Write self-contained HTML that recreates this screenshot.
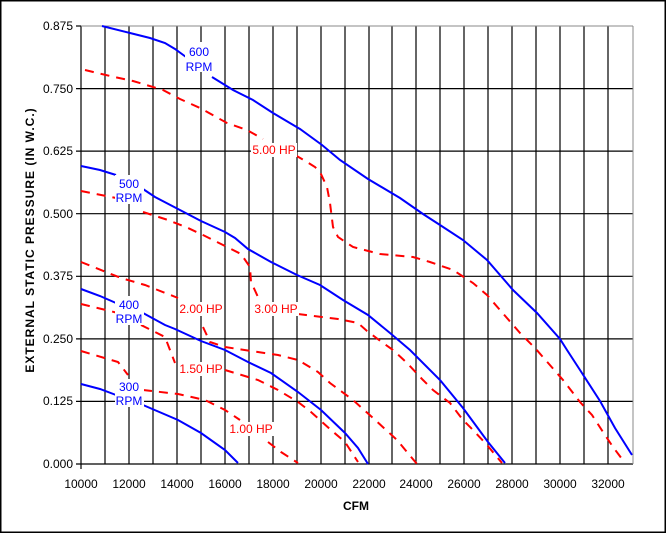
<!DOCTYPE html>
<html><head><style>body{margin:0;background:#fff}svg{display:block}</style></head><body>
<svg width="666" height="533" viewBox="0 0 666 533" xmlns="http://www.w3.org/2000/svg" font-family="Liberation Sans, Arial, sans-serif">
<rect x="0.5" y="0.5" width="665" height="532" fill="#fff" stroke="#000" stroke-width="1"/>
<rect x="1" y="1" width="664" height="531" fill="none" stroke="#000" stroke-width="1"/>
<g stroke="#000" stroke-width="1.2">
<line x1="105" y1="26" x2="105" y2="464"/><line x1="129" y1="26" x2="129" y2="464"/><line x1="153" y1="26" x2="153" y2="464"/><line x1="177" y1="26" x2="177" y2="464"/><line x1="201" y1="26" x2="201" y2="464"/><line x1="225" y1="26" x2="225" y2="464"/><line x1="249" y1="26" x2="249" y2="464"/><line x1="273" y1="26" x2="273" y2="464"/><line x1="297" y1="26" x2="297" y2="464"/><line x1="321" y1="26" x2="321" y2="464"/><line x1="345" y1="26" x2="345" y2="464"/><line x1="369" y1="26" x2="369" y2="464"/><line x1="392" y1="26" x2="392" y2="464"/><line x1="416" y1="26" x2="416" y2="464"/><line x1="440" y1="26" x2="440" y2="464"/><line x1="464" y1="26" x2="464" y2="464"/><line x1="488" y1="26" x2="488" y2="464"/><line x1="512" y1="26" x2="512" y2="464"/><line x1="536" y1="26" x2="536" y2="464"/><line x1="560" y1="26" x2="560" y2="464"/><line x1="584" y1="26" x2="584" y2="464"/><line x1="608" y1="26" x2="608" y2="464"/>
<line x1="76" y1="401.4" x2="633" y2="401.4"/><line x1="76" y1="338.9" x2="633" y2="338.9"/><line x1="76" y1="276.3" x2="633" y2="276.3"/><line x1="76" y1="213.7" x2="633" y2="213.7"/><line x1="76" y1="151.1" x2="633" y2="151.1"/><line x1="76" y1="88.6" x2="633" y2="88.6"/>
<line x1="81" y1="26" x2="81" y2="469"/><line x1="76" y1="464" x2="633" y2="464"/><line x1="76" y1="26" x2="81" y2="26"/>
</g>
<line x1="81" y1="26" x2="633" y2="26" stroke="#888"/><line x1="633" y1="26" x2="633" y2="464" stroke="#888"/>
<g fill="none" stroke="#0000ff" stroke-width="2">
<polyline points="102,26 130,33 150,38 165,43 175,49 186,57"/>
<polyline points="212,77 233,90 253,100 273,113 300,129 322,145 340,160 368,179 400,198 423,214 440,225 463,240 487,260 513,290 537,313 560,339 567,350 580,370 600,401 615,428 632,455"/>
<polyline points="81,166 100,170 116,175"/>
<polyline points="143,189 155,197 178,209 201,221 225,232 235,238 248,249 271,262 297,275 320,285 343,300 368,315 390,333 410,350 440,380 463,408 488,442 505,463"/>
<polyline points="81,289 100,296 116,303"/>
<polyline points="143,313 165,325 175,329 201,341 225,350 248,362 271,373 298,392 321,410 345,433 358,448 368,464"/>
<polyline points="81,384 100,389 116,395"/>
<polyline points="143,405 178,420 201,433 225,450 238,463"/>
</g>
<g fill="none" stroke="#ff0000" stroke-width="2" stroke-dasharray="9 7">
<polyline points="85,70 110,76 133,81 163,90 180,99 200,108 227,123 247,130 263,139"/>
<polyline points="295,155 307,162 315,167 320,172 327,187 330,203 333,227 338,237 353,247 380,254 413,257 430,262 453,270 473,283 487,295 500,310 520,333 535,348 563,380 580,402 592,415 603,432 613,447 625,463"/>
<polyline points="81,191 116,198"/>
<polyline points="143,212 168,220 188,228 205,236 231,249 241,254 250,267 251,282 258,297"/>
<polyline points="298,314 338,319 358,323 367,331 383,343 393,350 407,363 423,380 433,390 450,403 463,420 473,430 487,445 502,463"/>
<polyline points="81,262 121,278 145,285 178,298"/>
<polyline points="203,327 210,342 225,347 251,351 278,355 298,360 318,372 330,383 353,400 373,418 397,440 417,464"/>
<polyline points="81,304 118,313 145,327 165,337 175,363"/>
<polyline points="225,370 258,380 278,390 298,402 311,412 331,430 345,442 358,462"/>
<polyline points="81,351 118,362 128,375"/>
<polyline points="143,390 178,394 205,400 225,410 240,420"/>
<polyline points="268,442 281,452 298,463"/>
</g>
<g font-size="12" text-anchor="middle" fill="#0000ff">
<rect x="185" y="42" width="28" height="30" fill="#fff"/>
<text x="199" y="56">600</text><text x="199" y="71">RPM</text>
<rect x="115" y="175" width="29" height="29" fill="#fff"/>
<text x="129" y="188">500</text><text x="129" y="202">RPM</text>
<rect x="115" y="296" width="29" height="29" fill="#fff"/>
<text x="129" y="309">400</text><text x="129" y="323">RPM</text>
<rect x="115" y="379" width="29" height="28" fill="#fff"/>
<text x="129" y="391">300</text><text x="129" y="405">RPM</text>
</g>
<g font-size="12" text-anchor="middle" fill="#ff0000">
<rect x="251" y="143" width="46" height="14" fill="#fff"/><text x="274" y="154">5.00 HP</text>
<rect x="178" y="302" width="46" height="14" fill="#fff"/><text x="201" y="313">2.00 HP</text>
<rect x="253" y="302" width="46" height="14" fill="#fff"/><text x="276" y="313">3.00 HP</text>
<rect x="178" y="362" width="46" height="14" fill="#fff"/><text x="201" y="373">1.50 HP</text>
<rect x="228" y="422" width="46" height="14" fill="#fff"/><text x="251" y="433">1.00 HP</text>
</g>
<g font-size="12" text-anchor="end" fill="#000">
<text x="73" y="468">0.000</text><text x="73" y="405">0.125</text><text x="73" y="343">0.250</text><text x="73" y="280">0.375</text><text x="73" y="218">0.500</text><text x="73" y="155">0.625</text><text x="73" y="93">0.750</text><text x="73" y="30">0.875</text>
</g>
<g font-size="12" text-anchor="middle" fill="#000">
<text x="81" y="488">10000</text><text x="129" y="488">12000</text><text x="177" y="488">14000</text><text x="225" y="488">16000</text><text x="273" y="488">18000</text><text x="321" y="488">20000</text><text x="369" y="488">22000</text><text x="416" y="488">24000</text><text x="464" y="488">26000</text><text x="512" y="488">28000</text><text x="560" y="488">30000</text><text x="608" y="488">32000</text>
</g>
<text x="356" y="510" font-size="12" font-weight="bold" text-anchor="middle">CFM</text>
<text transform="translate(34,240) rotate(-90)" font-size="12" font-weight="bold" letter-spacing="1" text-anchor="middle">EXTERNAL STATIC PRESSURE (IN W.C.)</text>
</svg>
</body></html>
